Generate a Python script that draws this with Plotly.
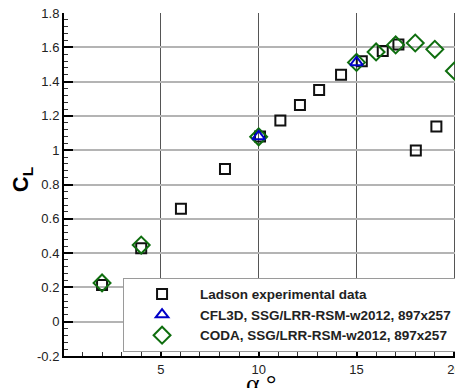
import plotly.graph_objects as go

# Ladson experimental data
ladson_alpha = [2.0, 4.0, 6.03, 8.28, 10.07, 11.11, 12.11, 13.09, 14.21, 15.27, 16.34, 17.14, 18.03, 19.08]
ladson_cl = [0.214, 0.428, 0.658, 0.891, 1.080, 1.173, 1.263, 1.351, 1.440, 1.518, 1.578, 1.617, 0.998, 1.138]

# CFL3D, SSG/LRR-RSM-w2012
cfl3d_alpha = [10, 15]
cfl3d_cl = [1.080, 1.512]

# CODA, SSG/LRR-RSM-w2012
coda_alpha = [2, 4, 10, 15, 16, 17, 18, 19, 20]
coda_cl = [0.226, 0.447, 1.078, 1.512, 1.573, 1.614, 1.625, 1.588, 1.462]

names = ["Ladson experimental data",
         "CFL3D, SSG/LRR-RSM-w2012, 897x257",
         "CODA, SSG/LRR-RSM-w2012, 897x257"]

fig = go.Figure()
fig.add_trace(go.Scatter(x=ladson_alpha, y=ladson_cl, mode="markers", name=names[0],
                         legendrank=1,
                         marker=dict(symbol="square-open", size=10, color="#111111",
                                     line=dict(width=2, color="#111111"))))
fig.add_trace(go.Scatter(x=coda_alpha, y=coda_cl, mode="markers", name=names[2],
                         legendrank=3,
                         marker=dict(symbol="diamond-open", size=13, color="#0f6e0f",
                                     line=dict(width=2, color="#0f6e0f"))))
fig.add_trace(go.Scatter(x=cfl3d_alpha, y=cfl3d_cl, mode="markers", name=names[1],
                         legendrank=2,
                         marker=dict(symbol="triangle-up-open", size=11, color="#0000c8",
                                     line=dict(width=2, color="#0000c8"))))

axis_font = dict(family="Liberation Sans, Arial, sans-serif", size=13, color="#222222")

fig.update_layout(
    width=463, height=388,
    margin=dict(l=56, r=8, t=5, b=40, pad=0, autoexpand=False),
    paper_bgcolor="white", plot_bgcolor="white",
    showlegend=True,
    legend=dict(x=0.148, y=0.228, xanchor="left", yanchor="top",
                bgcolor="white", bordercolor="#9a9a9a", borderwidth=1,
                itemwidth=66,
                font=dict(family="Liberation Sans, Arial, sans-serif", size=13.5, color="#222222",
                          weight="bold"),
                traceorder="normal"),
    xaxis=dict(range=[0.056, 20.44], tickvals=[5, 10, 15, 20], ticktext=["5", "10", "15", "20"],
               automargin=False, ticklabeloverflow="allow",
               showgrid=True, gridcolor="#555555", gridwidth=1,
               zeroline=False, showline=True, linecolor="black", linewidth=2,
               ticks="inside", ticklen=9, tickwidth=2, tickcolor="black",
               tickfont=axis_font,
               minor=dict(dtick=1, tick0=0, ticks="inside", ticklen=4, tickwidth=1,
                          tickcolor="#333333", showgrid=False)),
    yaxis=dict(range=[-0.2, 1.8], tickvals=[-0.2, 0, 0.2, 0.4, 0.6, 0.8, 1, 1.2, 1.4, 1.6, 1.8],
               ticktext=["-0.2", "0", "0.2", "0.4", "0.6", "0.8", "1", "1.2", "1.4", "1.6", "1.8"],
               automargin=False, ticklabeloverflow="allow",
               showgrid=True, gridcolor="#b4b4b4", gridwidth=1.5,
               zeroline=False, showline=True, linecolor="black", linewidth=2,
               ticks="inside", ticklen=9, tickwidth=2, tickcolor="black",
               tickfont=axis_font,
               minor=dict(dtick=0.04, tick0=0, ticks="inside", ticklen=4, tickwidth=1,
                          tickcolor="#333333", showgrid=False)),
)

fig.add_annotation(text="C<sub>L</sub>", xref="paper", yref="paper",
                   x=-0.105, y=0.513, xanchor="center", yanchor="middle",
                   textangle=-90, showarrow=False,
                   font=dict(family="Liberation Sans, Arial, sans-serif", size=22,
                             color="black", weight="bold"))
fig.add_annotation(text="α °", xref="paper", yref="paper",
                   x=0.496, y=-0.032, xanchor="center", yanchor="top",
                   showarrow=False,
                   font=dict(family="Liberation Serif, Times New Roman, serif", size=26,
                             color="black"))

fig.write_html("out.html")
